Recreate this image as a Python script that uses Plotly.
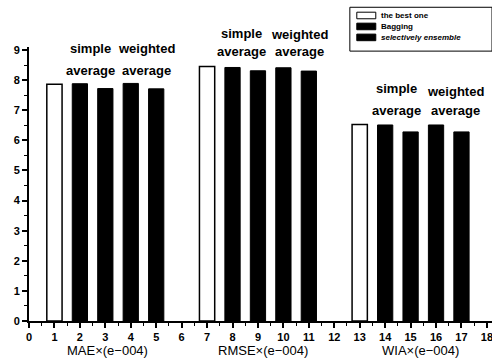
import plotly.graph_objects as go

# ---- data ----
best_x = [1, 7, 13]
best_y = [7.86, 8.45, 6.53]
bagging_x = [2, 4, 8, 10, 14, 16]
bagging_y = [7.88, 7.89, 8.42, 8.41, 6.51, 6.51]
selective_x = [3, 5, 9, 11, 15, 17]
selective_y = [7.72, 7.71, 8.31, 8.30, 6.28, 6.28]

series_names = ["the best one", "Bagging", "selectively ensemble"]
metric_labels = ["MAE×(e−004)", "RMSE×(e−004)", "WIA×(e−004)"]
x_ticks = list(range(0, 19))
y_ticks = list(range(0, 10))

# ---- layout constants ----
FONT = "Liberation Sans, Arial, sans-serif"
metric_label_x = [3.1, 9.2, 15.4]
note_x_simple = [2.4, 8.35, 14.45]
note_x_weighted = [4.6, 10.65, 16.75]
note_y_simple = [0.996, 1.051, 0.847]
note_y_weighted = [0.996, 1.044, 0.836]
note_y_average = [0.916, 0.982, 0.770]

fig = go.Figure()
fig.add_trace(go.Bar(x=best_x, y=best_y, name=series_names[0], width=0.6,
                     marker=dict(color="white", line=dict(color="black", width=1.5))))
fig.add_trace(go.Bar(x=bagging_x, y=bagging_y, name=series_names[1], width=0.6,
                     marker=dict(color="black", line=dict(color="black", width=1))))
fig.add_trace(go.Bar(x=selective_x, y=selective_y, name=series_names[2], width=0.6,
                     marker=dict(color="black", line=dict(color="black", width=1))))

nfont = dict(family=FONT, size=13, color="black", weight="bold")
annotations = []
def note(x, y, text, xref="x", xanchor="center", font=nfont):
    annotations.append(dict(x=x, y=y, xref=xref, yref="paper", text=text, showarrow=False,
                            xanchor=xanchor, yanchor="middle", font=font))

for i in range(3):
    note(note_x_simple[i], note_y_simple[i], "simple")
    note(note_x_weighted[i], note_y_weighted[i], "weighted")
    note(note_x_simple[i], note_y_average[i], "average")
    note(note_x_weighted[i], note_y_average[i], "average")
    note(metric_label_x[i], -0.106, metric_labels[i], font=dict(family=FONT, size=13, color="black"))

# legend drawn as a boxed key (paper coordinates)
shapes = [dict(type="rect", xref="paper", yref="paper", x0=0.693, x1=1.0, y0=0.985, y1=1.145,
               line=dict(color="black", width=1), fillcolor="white")]
legend_rows_y = [1.115, 1.075, 1.035]
legend_fill = ["white", "black", "black"]
for k in range(3):
    shapes.append(dict(type="rect", xref="paper", yref="paper", x0=0.708, x1=0.749,
                       y0=legend_rows_y[k] - 0.012, y1=legend_rows_y[k] + 0.012,
                       line=dict(color="black", width=1), fillcolor=legend_fill[k]))
    note(0.755, legend_rows_y[k],
         ("<i>%s</i>" % series_names[k]) if k == 2 else series_names[k],
         xref="paper", xanchor="left",
         font=dict(family=FONT, size=8, color="black", weight="bold"))

fig.update_layout(
    width=492, height=362,
    margin=dict(l=29, r=0, t=47, b=41, autoexpand=False),
    paper_bgcolor="white", plot_bgcolor="white",
    barmode="overlay",
    font=dict(family=FONT, color="black"),
    showlegend=False,
    annotations=annotations,
    shapes=shapes,
)
fig.update_xaxes(range=[0, 18.2], tickmode="array", tickvals=x_ticks, automargin=False,
                 ticklabeloverflow="allow",
                 ticks="outside", ticklen=5, tickwidth=1.5, tickcolor="black",
                 showline=True, linecolor="black", linewidth=2, showgrid=False, zeroline=False,
                 tickfont=dict(family=FONT, size=11, color="black", weight="bold"),
                 minor=dict(dtick=0.5, ticks="outside", ticklen=3, tickcolor="black", tickwidth=1))
fig.update_yaxes(range=[0, 9.1], tickmode="array", tickvals=y_ticks, automargin=False,
                 ticks="outside", ticklen=5, tickwidth=1.5, tickcolor="black",
                 showline=True, linecolor="black", linewidth=2, showgrid=False, zeroline=False,
                 tickfont=dict(family=FONT, size=11, color="black", weight="bold"),
                 minor=dict(dtick=0.5, ticks="outside", ticklen=3, tickcolor="black", tickwidth=1))

fig.write_html("out.html", config={"displayModeBar": False},
               post_script="document.body.style.margin='0';document.body.style.padding='0';")
